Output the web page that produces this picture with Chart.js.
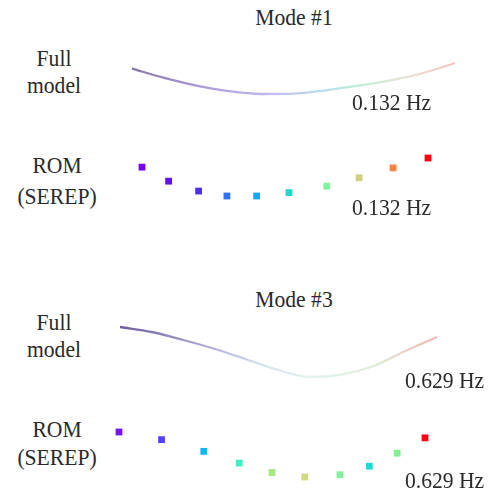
<!DOCTYPE html>
<html>
<head>
<meta charset="utf-8">
<script src="https://cdn.jsdelivr.net/npm/chart.js@4.4.1/dist/chart.umd.min.js"></script>
<style>
    html, body { margin: 0; padding: 0; background: #fff; }
    #stage { position: relative; width: 504px; height: 496px; overflow: hidden; }
    #stage canvas { position: absolute; }
    .label {
        position: absolute;
        font-family: "Liberation Serif", "Times New Roman", serif;
        font-size: 24px;
        line-height: 1;
        color: #2a2a2a;
        white-space: nowrap;
        transform-origin: left top;
        transform: scaleX(0.9);
    }
    .center { transform: translateX(-45%) scaleX(0.9); }
</style>
</head>
<body>
<div id="stage"></div>
<script>
// Mode #1 - full model (position along span, normalised displacement)
const mode1FullX = [0, 0.1, 0.2, 0.3, 0.4, 0.5, 0.6, 0.7, 0.8, 0.9, 1.0];
const mode1FullY = [-0.18, -0.48, -0.73, -0.91, -1.0, -0.99, -0.88, -0.73, -0.56, -0.33, 0.0];

// Mode #1 - ROM (SEREP) nodes
const mode1RomX = [0, 0.093, 0.198, 0.297, 0.401, 0.514, 0.646, 0.759, 0.878, 1.0];
const mode1RomY = [-0.24, -0.61, -0.87, -1.0, -1.0, -0.91, -0.74, -0.52, -0.26, 0.0];

// Mode #3 - full model
const mode3FullX = [0, 0.1, 0.2, 0.3, 0.4, 0.5, 0.6, 0.7, 0.8, 0.9, 1.0];
const mode3FullY = [0.0, -0.10, -0.26, -0.44, -0.65, -0.86, -1.0, -0.95, -0.78, -0.48, -0.2];

// Mode #3 - ROM (SEREP) nodes
const mode3RomX = [0, 0.139, 0.277, 0.393, 0.5, 0.607, 0.722, 0.818, 0.909, 1.0];
const mode3RomY = [0.0, -0.17, -0.43, -0.69, -0.90, -1.0, -0.95, -0.76, -0.47, -0.13];

const modeTitles = ['Mode #1', 'Mode #3'];
const frequencies = ['0.132 Hz', '0.629 Hz'];

// node colours (rainbow colour map used in the figure)
const mode1RomColors = ['#7a00f0', '#6410f5', '#4a30e8', '#3070f5', '#10a8f0', '#20d8d0', '#80f5a0', '#d0d080', '#ff8040', '#ff0010'];
const mode3RomColors = ['#7a10ff', '#5540ff', '#10b8f0', '#40f0c0', '#a8e880', '#d0d880', '#80f0a0', '#20d8d8', '#80f090', '#ff0010'];

const mode1LineStops = [[0, '#85789f'], [0.2, '#ab97d8'], [0.45, '#c4bdf2'], [0.58, '#b8dcf2'], [0.7, '#bdeed6'], [0.85, '#e8e4d6'], [1, '#f4c4c4']];
const mode3LineStops = [[0, '#6e5d96'], [0.12, '#8d80b8'], [0.3, '#b6b2dc'], [0.45, '#d6e4f0'], [0.6, '#e6f2ee'], [0.8, '#dcefd8'], [1, '#f4b8b8']];

const PAD = 10;
const stage = document.getElementById('stage');

function toPoints(xs, ys) {
    return xs.map((x, i) => ({ x, y: ys[i] }));
}

function gradientColor(stops) {
    return (context) => {
        const { chart } = context;
        const area = chart.chartArea;
        if (!area) {
            return stops[0][1];
        }
        const gradient = chart.ctx.createLinearGradient(area.left, 0, area.right, 0);
        stops.forEach(([offset, color]) => gradient.addColorStop(offset, color));
        return gradient;
    };
}

// area = the box (page px) the plot area should occupy
function placeChart(area, dataset) {
    const canvas = document.createElement('canvas');
    canvas.width = area.width + PAD * 2;
    canvas.height = area.height + PAD * 2;
    canvas.style.left = (area.left - PAD) + 'px';
    canvas.style.top = (area.top - PAD) + 'px';
    stage.appendChild(canvas);

    return new Chart(canvas, {
        type: 'scatter',
        data: { datasets: [dataset] },
        options: {
            responsive: false,
            animation: false,
            layout: { padding: PAD },
            plugins: { legend: { display: false }, tooltip: { enabled: false } },
            scales: {
                x: { type: 'linear', min: 0, max: 1, display: false },
                y: { type: 'linear', min: -1, max: 0, display: false },
            },
        },
    });
}

function fullModelDataset(xs, ys, stops) {
    return {
        data: toPoints(xs, ys),
        showLine: true,
        tension: 0.4,
        cubicInterpolationMode: 'monotone',
        borderWidth: 2.3,
        borderColor: gradientColor(stops),
        pointRadius: 0,
        clip: false,
    };
}

function romDataset(xs, ys, colors) {
    return {
        data: toPoints(xs, ys),
        showLine: false,
        pointStyle: 'rect',
        pointRadius: 4.8,
        pointBorderWidth: 0,
        pointBackgroundColor: colors,
        pointBorderColor: colors,
        clip: false,
    };
}

placeChart({ left: 132, top: 63, width: 323, height: 31 }, fullModelDataset(mode1FullX, mode1FullY, mode1LineStops));
placeChart({ left: 142, top: 158, width: 286, height: 38 }, romDataset(mode1RomX, mode1RomY, mode1RomColors));
placeChart({ left: 120, top: 327, width: 317, height: 50 }, fullModelDataset(mode3FullX, mode3FullY, mode3LineStops));
placeChart({ left: 119, top: 432, width: 306, height: 45 }, romDataset(mode3RomX, mode3RomY, mode3RomColors));

// text labels (baseline sits ~20px below the box top at 24px)
function addLabel(text, x, baseline, centered) {
    const div = document.createElement('div');
    div.className = 'label' + (centered ? ' center' : '');
    div.textContent = text;
    div.style.left = x + 'px';
    div.style.top = (baseline - 20) + 'px';
    stage.appendChild(div);
}

const panelOffsets = [0, 264];
panelOffsets.forEach((dy, i) => {
    addLabel(modeTitles[i], 294, 25 + dy + (i ? 18 : 0), true);
    addLabel('Full', 54, 66 + dy, true);
    addLabel('model', 54, 93 + dy, true);
});
addLabel('ROM', 57, 173, true);
addLabel('(SEREP)', 57, 204, true);
addLabel('ROM', 57, 437, true);
addLabel('(SEREP)', 57, 465, true);
addLabel(frequencies[0], 352, 110, false);
addLabel(frequencies[0], 352, 215, false);
addLabel(frequencies[1], 405, 388, false);
addLabel(frequencies[1], 405, 488, false);
</script>
</body>
</html>
